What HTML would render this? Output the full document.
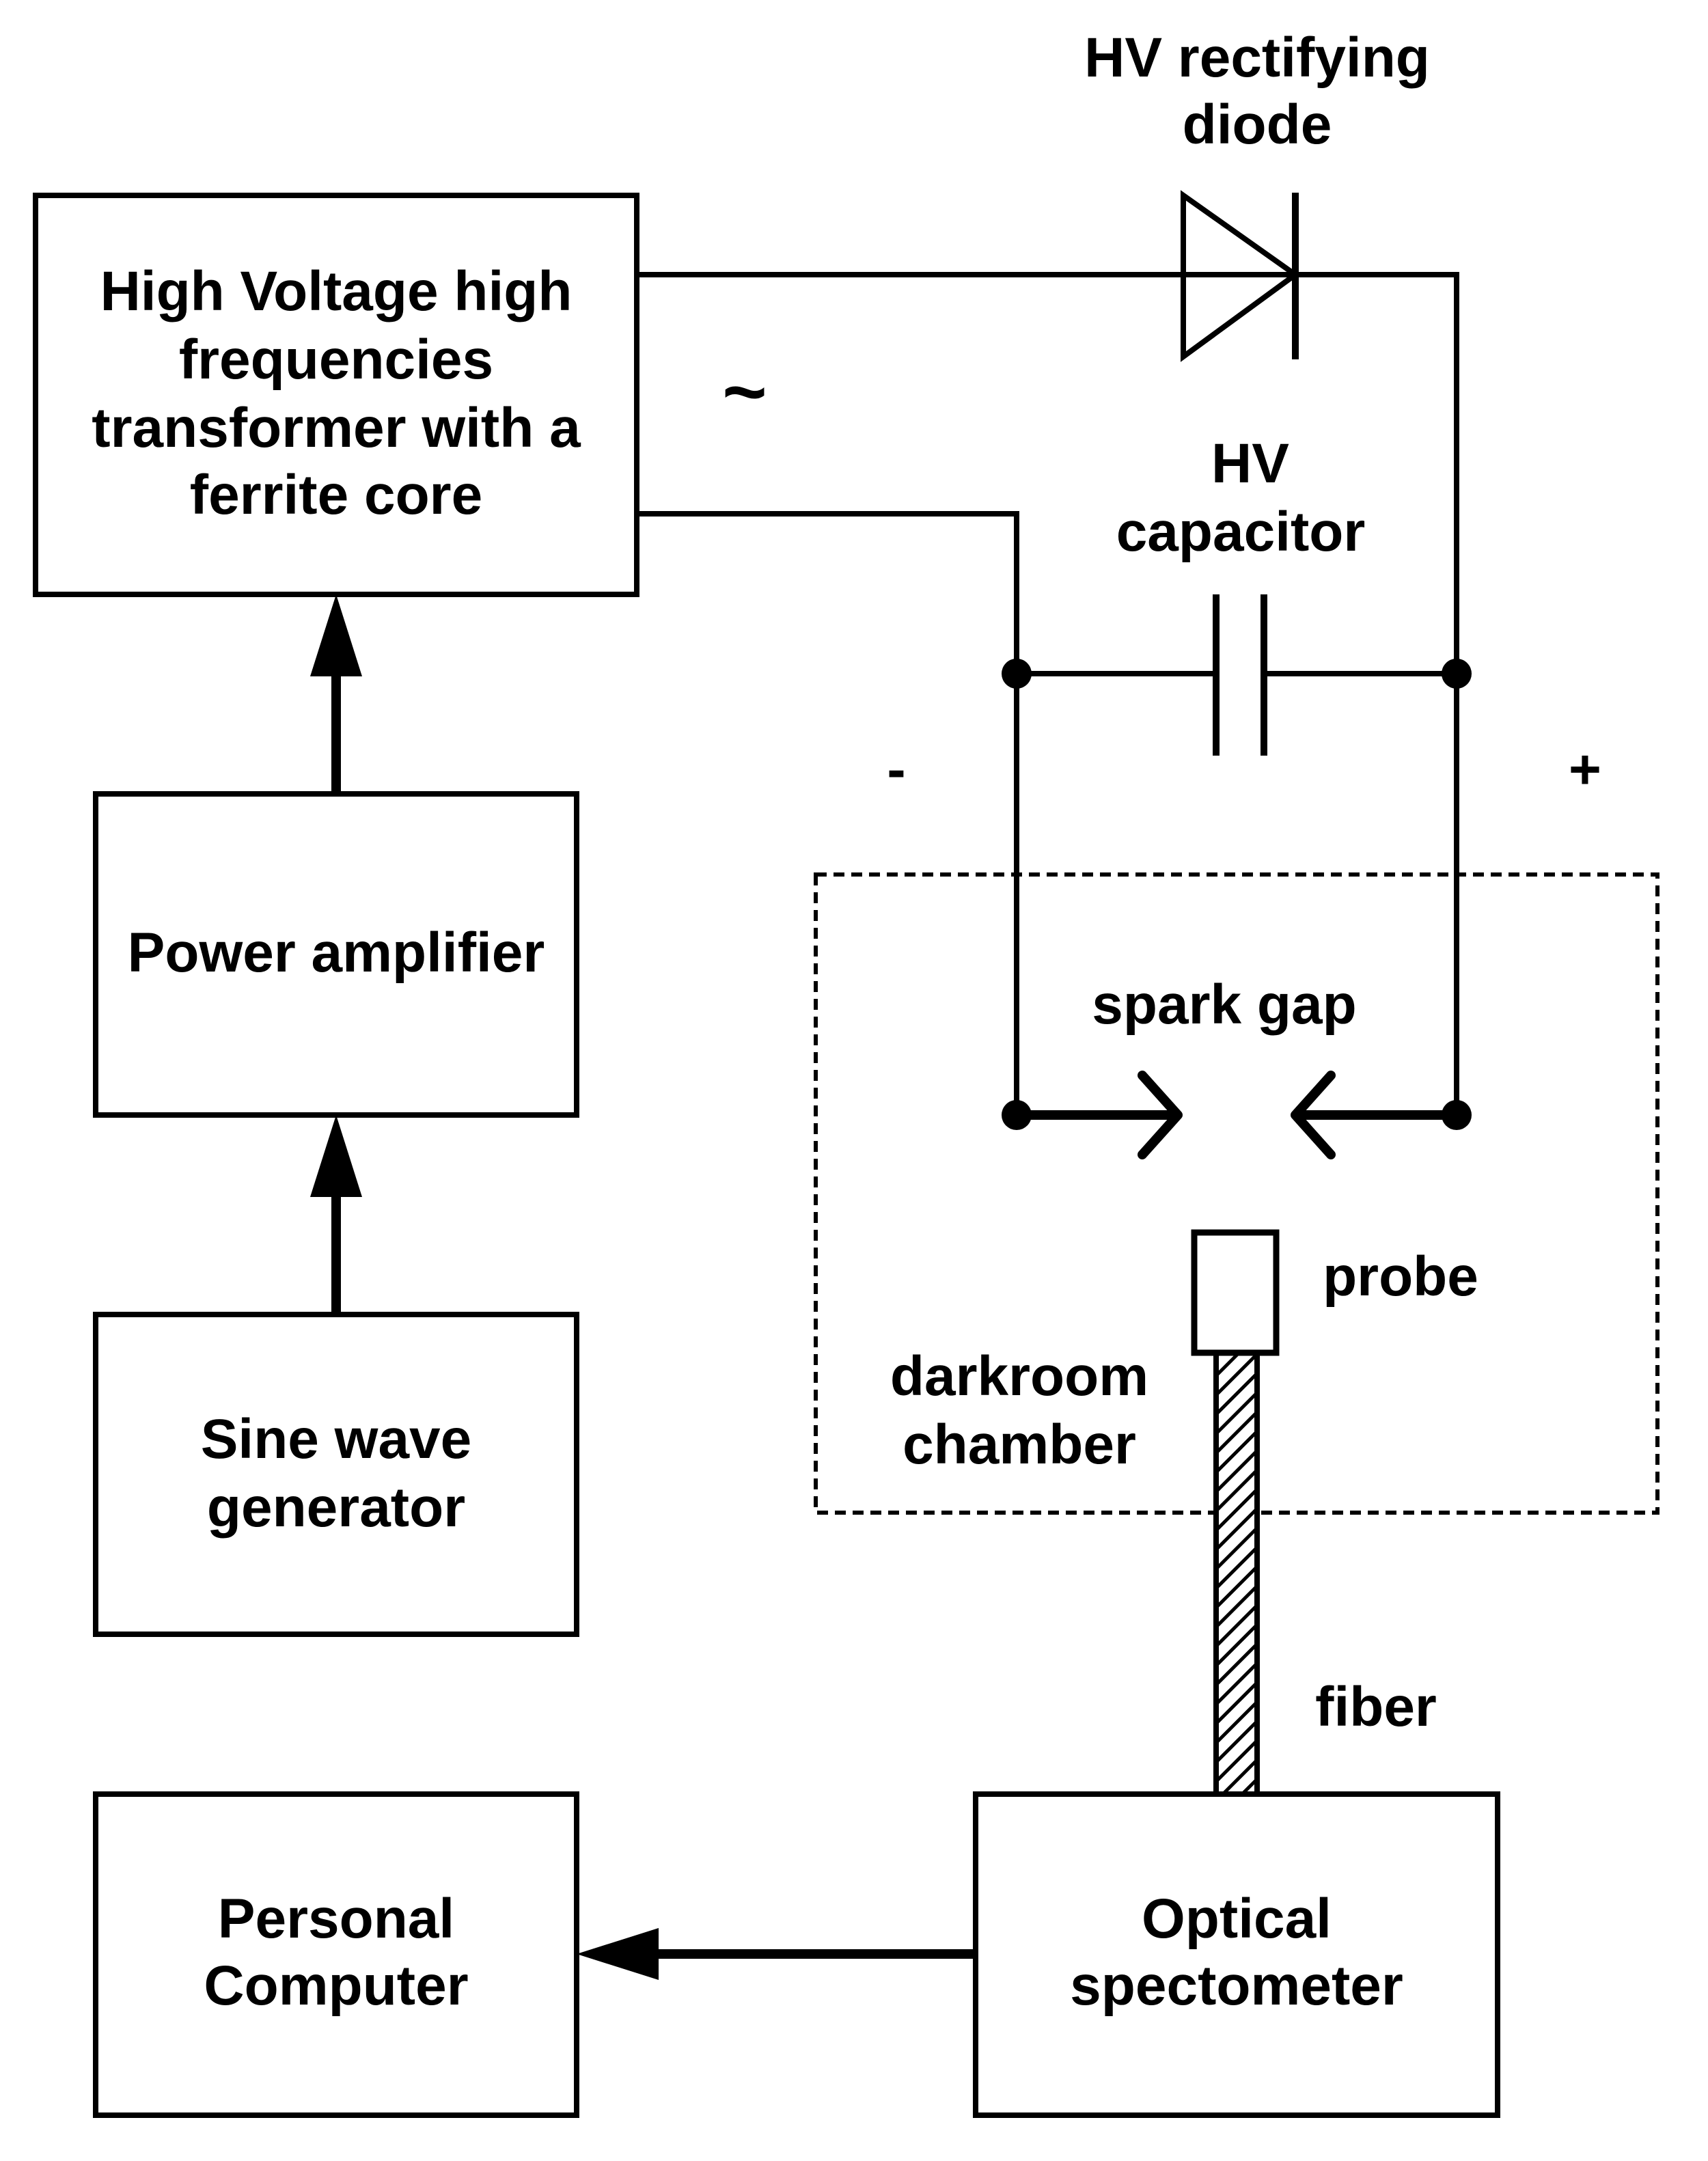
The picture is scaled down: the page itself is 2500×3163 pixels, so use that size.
<!DOCTYPE html>
<html><head><meta charset="utf-8"><style>
html,body{margin:0;padding:0;background:#fff;}
svg{display:block;}
text{font-family:"Liberation Sans",sans-serif;font-weight:bold;font-size:41px;fill:#000;text-anchor:middle;}
</style></head><body>
<svg width="2500" height="3163" viewBox="0 0 1250 1581.5" xmlns="http://www.w3.org/2000/svg">
<defs>
<pattern id="h" width="10" height="10" patternUnits="userSpaceOnUse" patternTransform="rotate(-45)">
<rect width="10" height="10" fill="#fff"/><rect width="10" height="2.5" fill="#000"/>
</pattern>
</defs>
<g fill="none" stroke="#000" stroke-width="4">
<rect x="26" y="143" width="440" height="292"/>
<rect x="70" y="581" width="352" height="235"/>
<rect x="70" y="962" width="352" height="234"/>
<rect x="70" y="1313" width="352" height="235"/>
<rect x="714" y="1313" width="382" height="235"/>
</g>
<g stroke="#000" stroke-width="7" fill="none">
<line x1="246" y1="581" x2="246" y2="490"/>
<line x1="246" y1="962" x2="246" y2="870"/>
<line x1="716" y1="1430" x2="475" y2="1430"/>
</g>
<g fill="#000">
<polygon points="246,435 227,495 265,495"/>
<polygon points="246,816 227,876 265,876"/>
<polygon points="422,1430 482,1411 482,1449"/>
</g>
<g fill="none" stroke="#000" stroke-width="4">
<polyline points="466,201 948,201"/>
<polyline points="948,201 1066,201 1066,816"/>
<polyline points="466,376 744,376 744,816"/>
<line x1="744" y1="493" x2="890" y2="493"/>
<line x1="925" y1="493" x2="1066" y2="493"/>
<polygon points="866,143 866,261 948,201"/>
</g>
<g stroke="#000" stroke-width="5">
<line x1="948" y1="141" x2="948" y2="263"/>
<line x1="890" y1="435" x2="890" y2="553"/>
<line x1="925" y1="435" x2="925" y2="553"/>
</g>
<g stroke="#000" stroke-width="7" fill="none" stroke-linecap="round" stroke-linejoin="round">
<line x1="744" y1="816" x2="858" y2="816"/>
<polyline points="836,787 862,816 836,845"/>
<line x1="1066" y1="816" x2="952" y2="816"/>
<polyline points="974,787 948,816 974,845"/>
</g>
<g fill="#000">
<circle cx="744" cy="493" r="11"/><circle cx="1066" cy="493" r="11"/>
<circle cx="744" cy="816" r="11"/><circle cx="1066" cy="816" r="11"/>
</g>
<rect x="597" y="640" width="616" height="467" fill="none" stroke="#000" stroke-width="3" stroke-dasharray="8,5"/>
<rect x="890" y="990" width="30" height="323" fill="url(#h)" stroke="#000" stroke-width="4"/>
<rect x="874" y="902" width="60" height="88" fill="#fff" stroke="#000" stroke-width="4.5"/>
<text x="246" y="227">High Voltage high</text>
<text x="246" y="277">frequencies</text>
<text x="246" y="327">transformer with a</text>
<text x="246" y="376">ferrite core</text>
<text x="920" y="56">HV rectifying</text>
<text x="920" y="105">diode</text>
<text x="545" y="306" style="font-size:56px">~</text>
<text x="915" y="353">HV</text>
<text x="908" y="403">capacitor</text>
<text x="656" y="577">-</text>
<text x="1160" y="577">+</text>
<text x="896" y="749">spark gap</text>
<text x="1025" y="948">probe</text>
<text x="746" y="1021">darkroom</text>
<text x="746" y="1071">chamber</text>
<text x="1007" y="1263">fiber</text>
<text x="246" y="711">Power amplifier</text>
<text x="246" y="1067">Sine wave</text>
<text x="246" y="1117">generator</text>
<text x="246" y="1418">Personal</text>
<text x="246" y="1467">Computer</text>
<text x="905" y="1418">Optical</text>
<text x="905" y="1467">spectometer</text>
</svg>
</body></html>
